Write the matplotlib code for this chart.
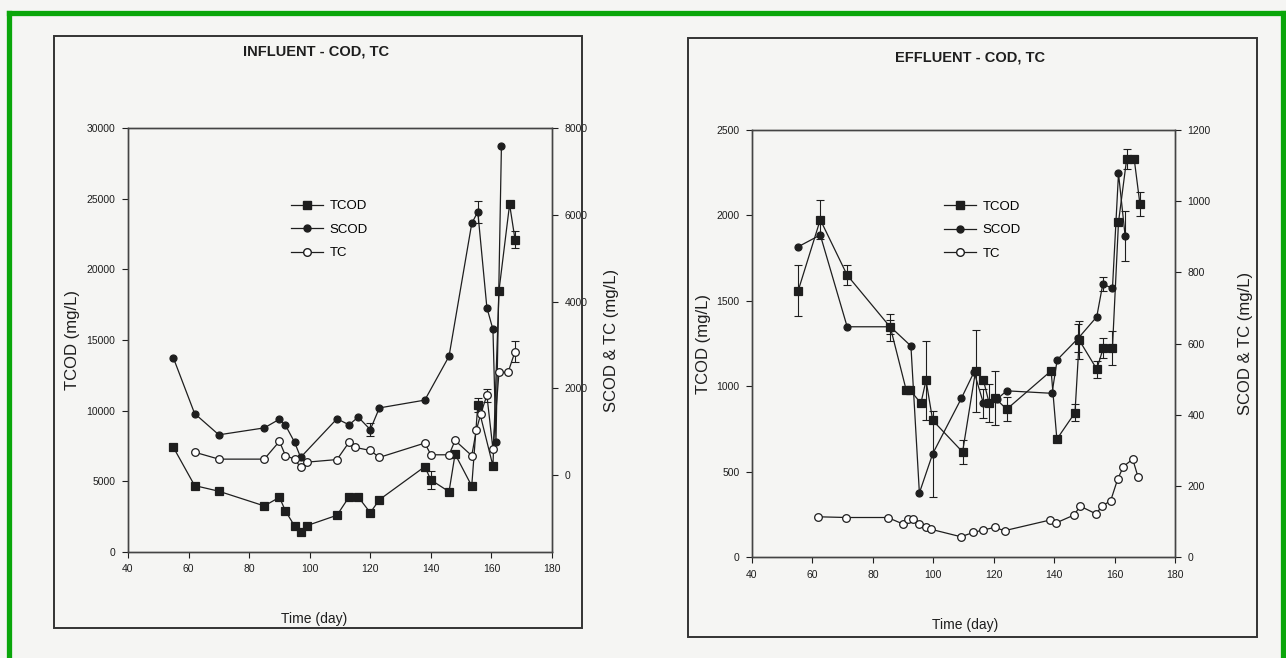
import matplotlib
matplotlib.use("Agg")
import matplotlib.pyplot as plt
from matplotlib.patches import Rectangle
from matplotlib.lines import Line2D

plt.rcParams['font.family'] = ['Liberation Sans', 'DejaVu Sans']

# ---------------- data : influent ----------------
tcod_in_day = [55, 62, 70, 85, 90, 92, 95, 97, 99, 109, 113, 116, 120, 123, 138, 140, 146, 148,
               153.5, 155.5, 160.5, 162.5, 166, 167.8]
tcod_in = [7400, 4700, 4300, 3260, 3870, 2900, 1840, 1440, 1860, 2600, 3900, 3900, 2780, 3700,
           6040, 5100, 4270, 6930, 4670, 10400, 6090, 18500, 24600, 22100]
tcod_in_err = [0, 0, 0, 0, 0, 0, 0, 0, 0, 0, 0, 0, 0, 0, 0, 650, 0, 0, 0, 500, 0, 0, 0, 600]

scod_in_day = [55, 62, 70, 85, 90, 92, 95, 97, 109, 113, 116, 120, 123, 138, 146, 153.5, 155.5,
               158.5, 160.5, 161.5, 163.3]
scod_in = [2700, 1420, 930, 1090, 1290, 1150, 760, 410, 1300, 1160, 1340, 1050, 1550, 1730, 2740,
           5800, 6070, 3860, 3360, 760, 7580]
scod_in_err = [0, 0, 0, 0, 0, 0, 0, 0, 0, 0, 0, 150, 0, 0, 0, 0, 250, 0, 0, 0, 0]

tc_in_day = [62, 70, 85, 90, 92, 95, 97, 99, 109, 113, 115, 120, 123, 138, 140, 146, 148, 153.5,
             155, 156.5, 158.5, 160.5, 162.5, 165.5, 167.8]
tc_in = [530, 370, 370, 780, 450, 370, 180, 300, 360, 760, 640, 570, 410, 740, 470, 470, 800, 450,
         1030, 1420, 1840, 600, 2370, 2370, 2850]
tc_in_err = [0] * 20 + [150, 0, 0, 0, 250]

# ---------------- data : effluent ----------------
tcod_ef_day = [55.3, 62.6, 71.5, 85.8, 91, 92.2, 95.9, 97.6, 99.8, 109.7, 114, 116.6, 118.5, 120.5,
               124.3, 139, 140.9, 146.9, 148.3, 154.1, 156.3, 159.3, 161.3, 164, 166.5, 168.4]
tcod_ef = [1560, 1975, 1650, 1345, 980, 980, 900, 1035, 800, 615, 1090, 1035, 900, 930, 865, 1090,
           690, 845, 1270, 1100, 1225, 1225, 1960, 2330, 2330, 2065]
tcod_ef_err = [150, 115, 60, 80, 0, 0, 0, 230, 0, 70, 240, 0, 110, 160, 70, 0, 0, 50, 110, 50, 60,
               100, 0, 60, 0, 70]

scod_ef_day = [55.3, 62.6, 71.5, 85.8, 92.6, 95.4, 99.8, 109.3, 113.5, 116.6, 121, 124.3, 139.3, 141,
               148, 154.1, 156.1, 159.3, 161.3, 163.5]
scod_ef = [872, 905, 647, 647, 593, 180, 290, 446, 520, 432, 443, 467, 460, 554, 615, 675, 767, 755,
           1078, 902]
scod_ef_err = [0, 0, 0, 20, 0, 0, 120, 0, 0, 40, 0, 0, 0, 0, 40, 0, 20, 0, 0, 70]

tc_ef_day = [61.9, 71.2, 84.9, 89.9, 91.5, 93.2, 95.4, 97.6, 99.2, 109.1, 113.3, 116.5, 120.3, 123.6,
             138.7, 140.7, 146.6, 148.6, 153.9, 155.8, 158.7, 161.0, 162.9, 166.0, 167.8]
tc_ef = [113, 111, 111, 93, 106, 108, 93, 85, 78, 57, 69, 76, 83, 74, 104, 96, 118, 143, 121, 143,
         158, 218, 254, 275, 224]

x_ticks = [40, 60, 80, 100, 120, 140, 160, 180]
in_left_ticks = [0, 5000, 10000, 15000, 20000, 25000, 30000]
in_right_ticks = [0, 2000, 4000, 6000, 8000]
ef_left_ticks = [0, 500, 1000, 1500, 2000, 2500]
ef_right_ticks = [0, 200, 400, 600, 800, 1000, 1200]

titles = ["INFLUENT - COD, TC", "EFFLUENT - COD, TC"]
series_names = ["TCOD", "SCOD", "TC"]

# ---------------- figure ----------------
W, H = 1286, 658
BG = '#f5f5f3'
INK = '#1e1e1e'
fig = plt.figure(figsize=(W / 100, H / 100), dpi=100, facecolor=BG)


def fx(px):
    return px / W


def fy(py):
    return 1 - py / H


def style_axis(a):
    a.tick_params(direction='out', length=4, width=0.8, labelsize=7.5, colors=INK, pad=5)
    for s in a.spines.values():
        s.set_color('#444444')
        s.set_linewidth(1.0)


def draw(series_ax, x, y, err, marker, face, ms):
    has_err = any(e > 0 for e in err)
    series_ax.plot(x, y, color=INK, lw=0.9, marker=marker, ms=ms, mfc=face, mec=INK, mew=0.9,
                   zorder=3)
    if has_err:
        ex = [xi for xi, e in zip(x, err) if e > 0]
        ey = [yi for yi, e in zip(y, err) if e > 0]
        ee = [e for e in err if e > 0]
        series_ax.errorbar(ex, ey, yerr=ee, fmt='none', ecolor=INK, elinewidth=0.8, capsize=3,
                           capthick=0.8, zorder=2)


def panel(box, ax_px, title, title_xy, tcod, scod, tc, lticks, rticks, llim, rlim, lab_pos, leg_pos):
    x0, y0, x1, y1 = box
    fig.patches.append(Rectangle((fx(x0), fy(y1)), fx(x1 - x0), (y1 - y0) / H,
                                 transform=fig.transFigure, fill=False, edgecolor='#333333',
                                 lw=1.4))
    fig.text(fx(title_xy[0]), fy(title_xy[1]), title, ha='center', va='center', fontsize=10.5,
             fontweight='bold', color=INK)
    l, t, r, b = ax_px
    ax = fig.add_axes([fx(l), fy(b), fx(r - l), (b - t) / H])
    ax.set_facecolor(BG)
    ax2 = ax.twinx()
    ax2.set_facecolor('none')
    style_axis(ax)
    style_axis(ax2)

    draw(ax, *tcod, 's', INK, 5.5)
    draw(ax2, *scod, 'o', INK, 5)
    draw(ax2, *tc, 'o', 'white', 5.5)

    ax.set_xlim(40, 180)
    ax.set_xticks(x_ticks)
    ax.set_ylim(*llim)
    ax.set_yticks(lticks)
    ax2.set_ylim(*rlim)
    ax2.set_yticks(rticks)

    ax.set_xlabel("Time (day)", fontsize=10, color=INK)
    ax.set_ylabel("TCOD (mg/L)", fontsize=12, color=INK)
    ax2.set_ylabel("SCOD & TC (mg/L)", fontsize=12, color=INK, rotation=90)
    ax.xaxis.set_label_coords(*lab_pos[0])
    ax.yaxis.set_label_coords(*lab_pos[1])
    ax2.yaxis.set_label_coords(*lab_pos[2])

    handles = [
        Line2D([], [], color=INK, lw=0.9, marker='s', ms=5.5, mfc=INK, mec=INK),
        Line2D([], [], color=INK, lw=0.9, marker='o', ms=5, mfc=INK, mec=INK),
        Line2D([], [], color=INK, lw=0.9, marker='o', ms=5.5, mfc='white', mec=INK),
    ]
    ax2.legend(handles, series_names, loc='upper left', bbox_to_anchor=leg_pos, frameon=False,
               fontsize=9.5, labelspacing=0.85, handlelength=2.4, handletextpad=0.5,
               borderaxespad=0, borderpad=0)
    return ax, ax2


panel((54, 36, 582, 628), (128, 128, 552, 552), titles[0], (316, 52),
      (tcod_in_day, tcod_in, tcod_in_err),
      (scod_in_day, scod_in, scod_in_err),
      (tc_in_day, tc_in, tc_in_err),
      in_left_ticks, in_right_ticks, (0, 30000), (-1770, 8000),
      [(0.44, -0.142), (-0.113, 0.5), (1.122, 0.5)], (0.385, 0.83))

panel((688, 38, 1257, 637), (752, 130, 1175, 557), titles[1], (970, 57),
      (tcod_ef_day, tcod_ef, tcod_ef_err),
      (scod_ef_day, scod_ef, scod_ef_err),
      (tc_ef_day, tc_ef, [0] * len(tc_ef)),
      ef_left_ticks, ef_right_ticks, (0, 2500), (0, 1200),
      [(0.504, -0.143), (-0.098, 0.5), (1.148, 0.5)], (0.455, 0.835))

green = '#0aa60a'
for xs, ys in [((8.5, 1286), (12.5, 12.5)), ((8.5, 8.5), (12.5, 658)),
               ((1283, 1283), (12.5, 658))]:
    fig.lines.append(Line2D([fx(xs[0]), fx(xs[1])], [fy(ys[0]), fy(ys[1])],
                            transform=fig.transFigure, color=green, lw=3.8))

fig.savefig("out.png", dpi=100, facecolor=BG)
